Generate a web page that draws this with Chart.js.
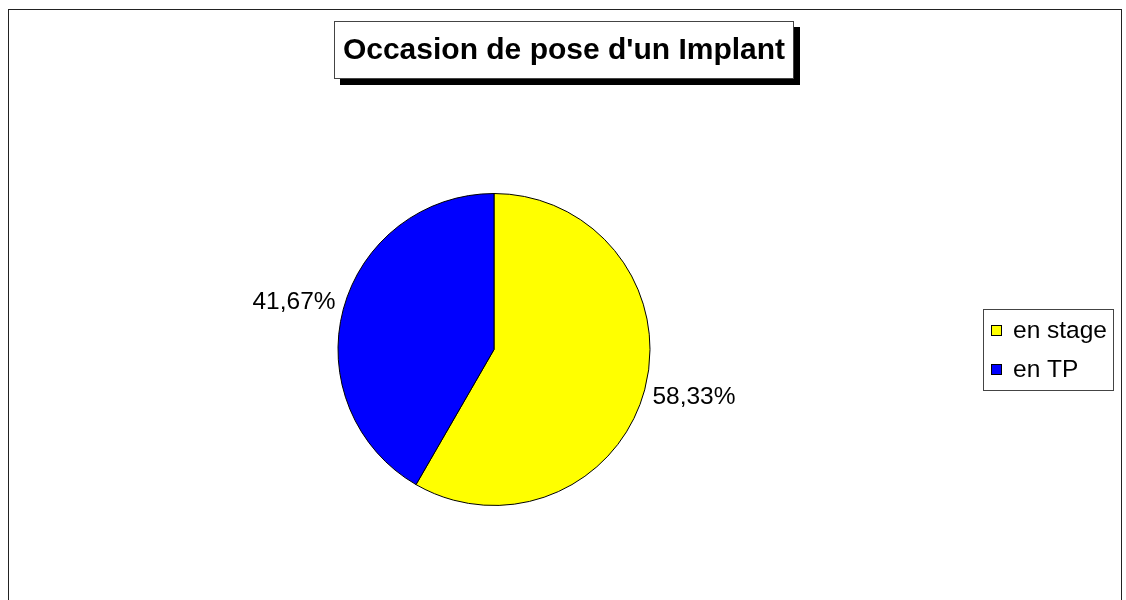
<!DOCTYPE html>
<html>
<head>
<meta charset="utf-8">
<script src="https://cdn.jsdelivr.net/npm/chart.js@4.4.1/dist/chart.umd.min.js"></script>
<style>
  html, body { margin: 0; padding: 0; background: #fff; }
  #wrap { width: 1126px; height: 600px; position: relative; }
</style>
</head>
<body>
<div id="wrap"><canvas id="myChart"></canvas></div>
<script>
const chartTitle = "Occasion de pose d'un Implant";
const categories = ['en stage', 'en TP'];
const percents = [58.33, 41.67];
const colors = ['#FFFF00', '#0000FF'];

const FONT = '"Liberation Sans", Arial, sans-serif';

// cadre, titre encadré avec ombre, étiquettes et légende façon Excel
const excelDeco = {
  id: 'excelDeco',
  beforeDraw(chart) {
    const c = chart.ctx;
    c.save();
    c.fillStyle = '#fff';
    c.fillRect(0, 0, chart.width, chart.height);
    c.strokeStyle = '#222';
    c.lineWidth = 1;
    c.strokeRect(8.5, 9.5, 1113, 600);
    c.restore();
  },
  afterDraw(chart) {
    const c = chart.ctx;
    c.save();

    // titre
    c.fillStyle = '#000';
    c.fillRect(340, 27, 460, 58);
    c.fillStyle = '#fff';
    c.fillRect(334, 21, 460, 58);
    c.strokeStyle = '#444';
    c.strokeRect(334.5, 21.5, 459, 57);
    c.fillStyle = '#000';
    c.font = 'bold 30px ' + FONT;
    c.textAlign = 'center';
    c.textBaseline = 'middle';
    c.fillText(chartTitle, 564, 51);

    // étiquettes de pourcentage, posées à côté de chaque part
    const meta = chart.getDatasetMeta(0);
    c.font = '24.5px ' + FONT;
    meta.data.forEach((arc, i) => {
      const mid = (arc.startAngle + arc.endAngle) / 2;
      const r = arc.outerRadius;
      const cs = Math.cos(mid), sn = Math.sin(mid);
      const x = arc.x + cs * (r + 8);
      const y = arc.y + sn * (r + 27);
      c.textAlign = cs < 0 ? 'right' : 'left';
      c.fillText(percents[i].toFixed(2).replace('.', ',') + '%', x, y);
    });

    // légende
    c.fillStyle = '#fff';
    c.fillRect(983, 309, 131, 82);
    c.strokeStyle = '#444';
    c.strokeRect(983.5, 309.5, 130, 81);
    c.textAlign = 'left';
    c.font = '24.5px ' + FONT;
    categories.forEach((lab, i) => {
      const y = 331 + i * 39;
      c.fillStyle = colors[i];
      c.fillRect(992, y - 5, 9, 9);
      c.strokeStyle = '#000';
      c.strokeRect(991.5, y - 5.5, 10, 10);
      c.fillStyle = '#000';
      c.fillText(lab, 1013, y);
    });
    c.restore();
  }
};

new Chart(document.getElementById('myChart'), {
  type: 'pie',
  data: {
    labels: categories,
    datasets: [{
      data: percents,
      backgroundColor: colors,
      borderColor: '#000',
      borderWidth: 1,
      hoverOffset: 0
    }]
  },
  options: {
    responsive: true,
    maintainAspectRatio: false,
    animation: false,
    events: [],
    layout: { padding: { top: 193, bottom: 94, left: 100, right: 238 } },
    plugins: {
      legend: { display: false },
      title: { display: false },
      tooltip: { enabled: false }
    }
  },
  plugins: [excelDeco]
});
</script>
</body>
</html>
